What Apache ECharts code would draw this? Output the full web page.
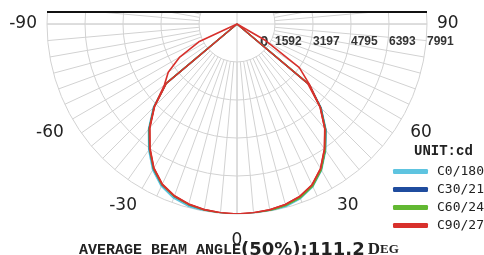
<!DOCTYPE html>
<html lang="en">
<head>
  <meta charset="UTF-8" />
  <title>Light distribution</title>
  <script src="https://cdn.jsdelivr.net/npm/echarts@6.0.0/dist/echarts.min.js"></script>
  <style>
    html, body { margin: 0; padding: 0; background: #fff; }
    #chart { width: 484px; height: 255px; }
  </style>
</head>
<body>
  <div id="chart"></div>
  <script>
    // gamma angles, -90 (left) .. 0 (down) .. 90 (right)
    var gammaAngles = [-90, -85, -80, -75, -70, -65, -60, -55, -50, -45, -40, -35, -30, -25, -20, -15, -10, -5,
      0, 5, 10, 15, 20, 25, 30, 35, 40, 45, 50, 55, 60, 65, 70, 75, 80, 85, 90];

    // intensity in cd
    var c0_180 = [0, 0, 0, 0, 0, 0, 0, 0, 3900, 4980, 5790, 6470, 7090, 7530, 7790, 7930, 8010, 8060,
      8075, 8060, 8020, 7950, 7810, 7550, 7110, 6500, 5830, 5010, 3950, 0, 0, 0, 0, 0, 0, 0, 0];
    var c30_210 = [0, 0, 0, 0, 0, 0, 0, 0, 3900, 4940, 5750, 6420, 7030, 7470, 7720, 7865, 7945, 7990,
      8005, 7995, 7960, 7890, 7760, 7510, 7070, 6470, 5800, 4990, 3960, 0, 0, 0, 0, 0, 0, 0, 0];
    var c60_240 = [0, 0, 0, 0, 0, 0, 0, 0, 3890, 4930, 5740, 6410, 7020, 7460, 7715, 7860, 7945, 7995,
      8020, 8010, 7975, 7905, 7775, 7525, 7085, 6470, 5790, 4970, 3940, 0, 0, 0, 0, 0, 0, 0, 0];
    var c90 = [0, 0, 0, 0, 0, 1770, 2780, 3530, 3990, 4921, 5720, 6393, 7003, 7444, 7697, 7844, 7928, 7974,
      7991, 7974, 7935, 7860, 7720, 7470, 7030, 6420, 5750, 4950, 4000, 3200, 1390, 0, 0, 0, 0, 0, 0];
    var c270 = [0, 0, 0, 0, 0, 0, 0, 0, 3880, 4900, 5700, 6380, 6990, 7430, 7690, 7840, 7925, 7972,
      7990, 7972, 7930, 7855, 7715, 7460, 7020, 6410, 5740, 4940, 3880, 0, 0, 0, 0, 0, 0, 0, 0];

    var planeNames = ['C0/180', 'C30/210', 'C60/240', 'C90/270'];
    var planeColors = ['#5ec4e0', '#1f4c9e', '#62b832', '#d8302c'];
    var radiusLabels = ['0', '1592', '3197', '4795', '6393', '7991'];
    var angleLabels = [-90, -60, -30, 0, 30, 60, 90];

    var CX = 237, CY = 24, R = 190;
    var maxCd = 7991, stepCd = 1598.2;
    var gridColor = '#d2d2d2';
    var narrowFont = '"Liberation Sans", sans-serif';

    function pts(vals) {
      return gammaAngles.map(function (g, i) { return [vals[i], g]; });
    }

    function curve(name, vals, color) {
      return {
        name: name,
        type: 'line',
        coordinateSystem: 'polar',
        polarIndex: 0,
        data: pts(vals),
        showSymbol: false,
        symbol: 'none',
        smooth: false,
        lineStyle: { color: color, width: 1.6 },
        itemStyle: { color: color },
        z: 3
      };
    }

    var chart = echarts.init(document.getElementById('chart'));
    chart.setOption({
      animation: false,
      title: [
        {
          text: 'UNIT:cd',
          left: 409, top: 139,
          textStyle: { fontFamily: 'Liberation Mono', fontWeight: 'bold', fontSize: 14, color: '#222' }
        },
        {
          text: '{a|AVERAGE BEAM ANGLE}{b|(50%):111.2}{c|D}{d|EG}',
          left: 74, top: 236,
          textStyle: {
            rich: {
              a: { fontFamily: 'Liberation Mono', fontWeight: 'bold', fontSize: 15, color: '#222' },
              b: { fontFamily: 'DejaVu Sans', fontWeight: 'bold', fontSize: 18, color: '#222' },
              c: { fontFamily: 'Liberation Serif', fontWeight: 'bold', fontSize: 17, color: '#222', padding: [0, 0, 0, 3] },
              d: { fontFamily: 'Liberation Serif', fontWeight: 'bold', fontSize: 13, color: '#222' }
            }
          }
        }
      ],
      legend: {
        data: planeNames,
        orient: 'vertical',
        left: 388, top: 160,
        itemWidth: 35, itemHeight: 5,
        itemGap: 5,
        icon: 'roundRect',
        textStyle: { fontFamily: 'DejaVu Sans Mono', fontSize: 13, color: '#222', padding: [0, 0, 0, 4] }
      },
      polar: [
        { center: [CX, CY], radius: R },
        { center: [CX, CY], radius: [R / 5, R] }
      ],
      angleAxis: [
        {
          polarIndex: 0, type: 'value', min: -270, max: 90, interval: 90,
          startAngle: 0, clockwise: false,
          axisLine: { show: false }, axisTick: { show: false }, axisLabel: { show: false },
          splitLine: { show: true, lineStyle: { color: gridColor, width: 1 } }
        },
        {
          polarIndex: 1, type: 'value', min: -270, max: 90, interval: 5,
          startAngle: 0, clockwise: false,
          axisLine: { show: false }, axisTick: { show: false },
          splitLine: { show: true, lineStyle: { color: gridColor, width: 1 } },
          axisLabel: {
            margin: 10,
            fontFamily: 'DejaVu Sans', fontSize: 17, color: '#222',
            formatter: function (v) {
              var g = v === -270 ? 90 : v;
              if (angleLabels.indexOf(g) < 0) return '';
              if (g === 0) return '{z|0}';
              return String(g);
            },
            rich: { z: { fontFamily: 'DejaVu Sans', fontSize: 17, color: '#222', padding: [8, 0, 0, 0] } }
          }
        }
      ],
      radiusAxis: [
        {
          polarIndex: 0, type: 'value', min: 0, max: maxCd, interval: stepCd,
          axisLine: { show: false }, axisTick: { show: false },
          splitLine: { show: true, lineStyle: { color: gridColor, width: 1 } },
          axisLabel: {
            margin: -18, align: 'left', verticalAlign: 'middle',
            fontFamily: narrowFont, fontWeight: 'bold', fontSize: 12, color: '#333',
            formatter: function (v) {
              var s = radiusLabels[Math.round(v / stepCd)];
              return v === 0 ? '{o|' + s + '}' : s;
            },
            rich: { o: { fontFamily: narrowFont, fontWeight: 'bold', fontSize: 15, color: '#333', padding: [0, 0, 0, 23] } }
          }
        },
        {
          polarIndex: 1, type: 'value', min: 0, max: maxCd,
          axisLine: { show: false }, axisTick: { show: false }, axisLabel: { show: false },
          splitLine: { show: false }
        }
      ],
      graphic: [
        {
          type: 'rect', z: 100,
          shape: { x: CX - R - 6, y: 0, width: 2 * R + 12, height: CY - 13 },
          style: { fill: '#fff' }
        },
        {
          type: 'line', z: 101,
          shape: { x1: CX - R, y1: CY - 12, x2: CX + R, y2: CY - 12 },
          style: { stroke: '#111', lineWidth: 2 }
        }
      ],
      series: [
        curve(planeNames[0], c0_180, planeColors[0]),
        curve(planeNames[1], c30_210, planeColors[1]),
        curve(planeNames[2], c60_240, planeColors[2]),
        curve(planeNames[3], c270, planeColors[3]),
        curve(planeNames[3], c90, planeColors[3])
      ]
    });
  </script>
</body>
</html>
